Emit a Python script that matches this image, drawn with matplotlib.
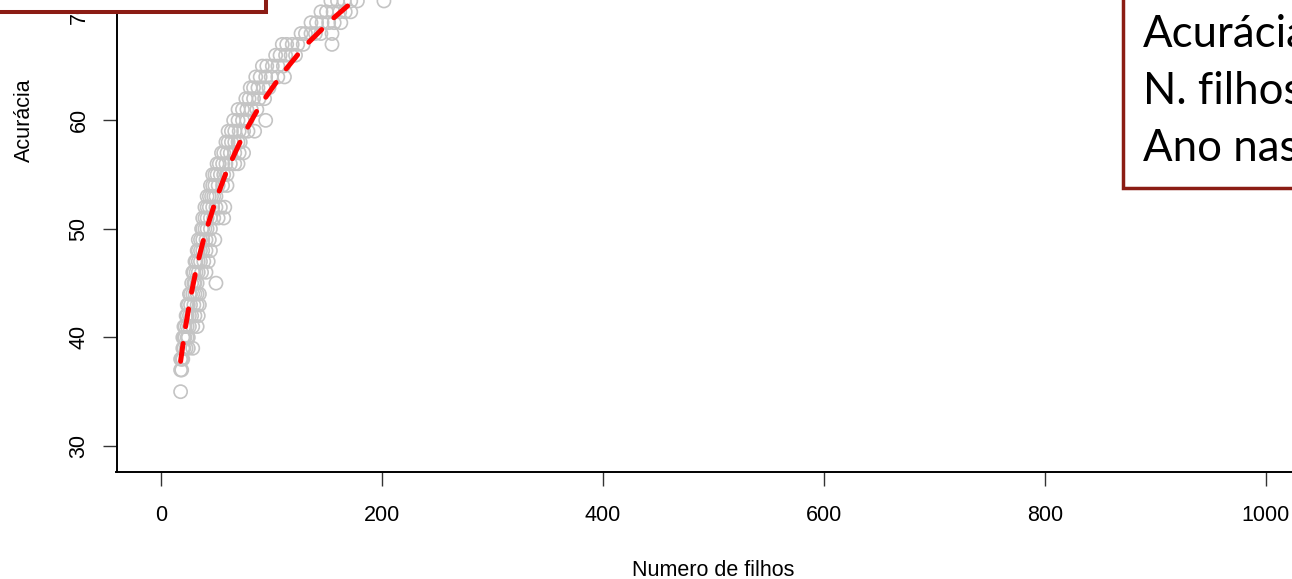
import numpy as np
import matplotlib
matplotlib.use("Agg")
import matplotlib.pyplot as plt
from matplotlib.patches import Rectangle

# acuracia (%) observada e numero de filhos em cada nivel
niveis = [35, 37, 38, 39, 40, 41, 42, 43, 44, 45, 46, 47, 48, 49, 50, 51, 52, 53,
          54, 55, 56, 57, 58, 59, 60, 61, 62, 63, 64, 65, 66, 67, 68, 69, 70, 71, 72]
filhos_por_nivel = [
    [18],
    [18, 19],
    [18, 19, 20],
    [20, 21, 23, 25, 29],
    [20, 21, 22, 24, 25],
    [21, 22, 24, 26, 29, 33],
    [23, 24, 26, 28, 31, 34],
    [24, 25, 27, 30, 33, 35],
    [26, 27, 29, 31, 33, 35],
    [28, 30, 31, 33, 50],
    [29, 30, 32, 34, 37, 41],
    [31, 32, 34, 36, 39, 43],
    [33, 34, 36, 38, 41, 45],
    [34, 36, 38, 41, 44, 49],
    [37, 38, 40, 42, 45],
    [38, 40, 42, 45, 48, 52, 57],
    [40, 42, 44, 47, 50, 54, 58],
    [42, 44, 46, 48, 50],
    [45, 47, 49, 52, 56, 60],
    [47, 49, 51, 54, 57, 60],
    [51, 53, 56, 59, 63, 67, 70],
    [55, 57, 60, 63, 67, 71, 75],
    [59, 61, 64, 67, 70, 72],
    [61, 64, 67, 71, 75, 79, 85],
    [66, 70, 74, 78, 95],
    [70, 74, 78, 82, 87],
    [77, 80, 84, 89, 94],
    [81, 84, 88, 93, 98],
    [86, 90, 95, 100, 106, 112],
    [92, 96, 101, 106, 111],
    [104, 108, 113, 118, 122],
    [110, 114, 119, 124, 129, 155],
    [127, 131, 136, 140, 145, 155],
    [136, 141, 146, 152, 157, 163],
    [145, 150, 156, 162, 167, 172],
    [154, 160, 166, 172, 178, 202],
    [162, 170, 178, 186, 194],
]
# curva ajustada (linha tracejada vermelha)
curva_x = [18, 22, 27, 33, 40, 50, 60, 75, 90, 110, 130, 155, 180, 205]
curva_y = [37.8, 40.7, 43.7, 46.7, 49.5, 52.7, 55.4, 58.7, 61.4, 64.3, 66.8, 69.3, 71.5, 73.4]
xticks = [0, 200, 400, 600, 800, 1000]
yticks = [30, 40, 50, 60, 70]
legenda = ["Acurácia", "N. filhos", "Ano nascimento"]

xv = []
yv = []
for nivel, filhos in zip(niveis, filhos_por_nivel):
    for f in filhos:
        xv.append(f)
        yv.append(nivel)

W, H = 1292, 579
fig = plt.figure(figsize=(W / 100, H / 100), dpi=100)
# eixo maior que a figura: o grafico original esta recortado
ax = fig.add_axes([116.5 / W, (H - 472) / H, (1310 - 116.5) / W, (472 + 231.3) / H])

ax.scatter(xv, yv, s=90, facecolors="none", edgecolors="#c4c4c4", linewidths=1.2, zorder=2)
ax.plot(curva_x, curva_y, color="#ff0000", lw=3.6,
        linestyle=(0, (3.6, 3.4)), dash_capstyle="round", zorder=3)

ax.set_xlim(-40, 1040)
ax.set_ylim(27.6, 92.4)
ax.set_xticks(xticks)
ax.set_yticks(yticks)
ax.spines["top"].set_visible(False)
ax.spines["right"].set_visible(False)
for s in ["left", "bottom"]:
    ax.spines[s].set_linewidth(1.4)
ax.tick_params(length=10, width=1.0, color="#333333", labelsize=15.5)
ax.tick_params(axis="x", pad=14)
ax.tick_params(axis="y", labelrotation=90, pad=9.5)
for lbl in ax.get_yticklabels():
    lbl.set_va("center")
for lbl in ax.get_xticklabels() + ax.get_yticklabels():
    lbl.set_fontfamily("Liberation Sans")

ax.set_xlabel("Numero de filhos", fontsize=15.5, family="Liberation Sans", labelpad=24.5)
ax.set_ylabel("Acurácia", fontsize=15.5, family="Liberation Sans", labelpad=24)

# caixas sobrepostas
borda = "#8b1c14"
fig.patches.append(Rectangle((-10 / W, (H - 12) / H), 275.5 / W, 30 / H,
                             transform=fig.transFigure, facecolor="white",
                             edgecolor=borda, lw=2.9, zorder=10))
fig.patches.append(Rectangle((1122.5 / W, (H - 188) / H), 200 / W, 210 / H,
                             transform=fig.transFigure, facecolor="white",
                             edgecolor=borda, lw=2.5, zorder=10))
for i, txt in enumerate(legenda):
    fig.text(1143 / W, (H - 47 - 57 * i) / H, txt, fontsize=31.5, family="Lato",
             ha="left", va="baseline", color="black", zorder=11)

fig.savefig("out.png", dpi=100)
